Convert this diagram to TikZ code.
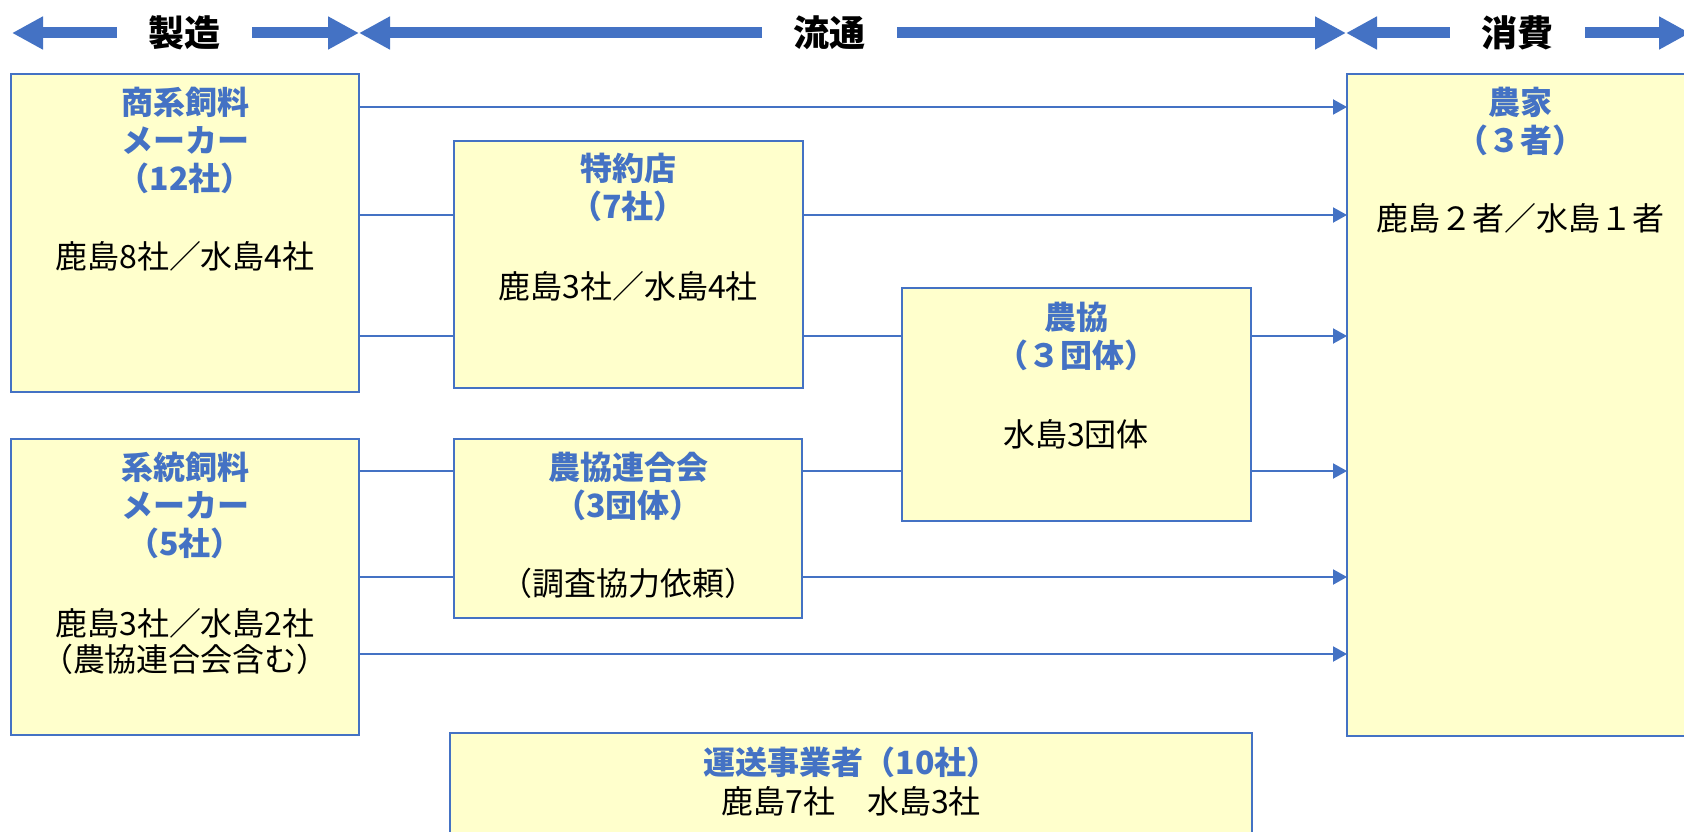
\documentclass[tikz,border=0pt]{standalone}
\usepackage{fontspec}
\setmainfont{Noto Sans CJK JP}
\usetikzlibrary{arrows.meta}
\definecolor{myblue}{HTML}{4472C4}
\definecolor{boxfill}{HTML}{FFFFCC}
\begin{document}
\begin{tikzpicture}[x=1pt,y=-1pt,
  box/.style={draw=myblue, line width=2pt, fill=boxfill, inner sep=0pt, outer sep=0pt, anchor=north west},
  ttl/.style={text=myblue, font=\fontsize{32}{38}\selectfont\bfseries, align=center, inner sep=0pt},
  body/.style={font=\fontsize{32}{36}\selectfont, align=center, inner sep=0pt},
  conn/.style={draw=myblue, line width=2pt},
  arr/.style={conn, -{Triangle[length=14pt,width=15pt]}},
  hdr/.style={draw=myblue, line width=11pt, {Triangle[length=31pt,width=31pt]}-{Triangle[length=31pt,width=31pt]}},
  hlbl/.style={fill=white, font=\fontsize{36}{40}\selectfont\bfseries, inner xsep=31.5pt, inner ysep=10pt}
]
\clip (0,0) rectangle (1684,832);
\fill[white] (0,0) rectangle (1684,832);

% header arrows
\coordinate (h0) at (12,33);
\coordinate (h1) at (359,33);
\coordinate (h2) at (1346,33);
\coordinate (h3) at (1690,33);
\draw[hdr] (h0) -- (h1);
\draw[hdr] (h1) -- (h2);
\draw[hdr] (h2) -- (h3);
\node[hlbl] (seizo) at (184.5,33) {製造};
\node[hlbl] (ryutsu) at (829.5,33) {流通};
\node[hlbl] (shohi) at (1517.5,33) {消費};

% boxes
\node[box, minimum width=348pt, minimum height=318pt] (shoukei) at (11,74) {};
\node[box, minimum width=349pt, minimum height=247pt] (tokuyaku) at (454,141) {};
\node[box, minimum width=349pt, minimum height=233pt] (noukyo) at (902,288) {};
\node[box, minimum width=360pt, minimum height=662pt] (nouka) at (1347,74) {};
\node[box, minimum width=348pt, minimum height=296pt] (keitou) at (11,439) {};
\node[box, minimum width=348pt, minimum height=179pt] (rengo) at (454,439) {};
\node[box, minimum width=802pt, minimum height=140pt] (unsou) at (450,733) {};

% texts
\node[ttl] (t1) at (185,140) {商系飼料\\メーカー\\（12社）};
\node[body] (b1) at (185,256) {鹿島8社／水島4社};
\node[ttl] (t2) at (628,187.5) {特約店\\（7社）};
\node[body] (b2) at (628,286) {鹿島3社／水島4社};
\node[ttl] (t3) at (1076,336.5) {農協\\（３団体）};
\node[body] (b3) at (1076,434) {水島3団体};
\node[ttl] (t4) at (1520,121) {農家\\（３者）};
\node[body] (b4) at (1520,218) {鹿島２者／水島１者};
\node[ttl] (t5) at (185,505) {系統飼料\\メーカー\\（5社）};
\node[body] (b5) at (185,641) {鹿島3社／水島2社\\（農協連合会含む）};
\node[ttl] (t6) at (628,486) {農協連合会\\（3団体）};
\node[body] (b6) at (628,583) {（調査協力依頼）};
\node[ttl] (t7) at (851,762) {運送事業者（10社）};
\node[body] (b7) at (851,801) {鹿島7社　水島3社};

% connectors
\coordinate (r1) at (0,107);
\coordinate (r2) at (0,215);
\coordinate (r3) at (0,336);
\coordinate (r4) at (0,471);
\coordinate (r5) at (0,577);
\coordinate (r6) at (0,654);
\draw[arr] (shoukei.east |- r1) -- (nouka.west |- r1);
\draw[conn] (shoukei.east |- r2) -- (tokuyaku.west |- r2);
\draw[arr] (tokuyaku.east |- r2) -- (nouka.west |- r2);
\draw[conn] (shoukei.east |- r3) -- (tokuyaku.west |- r3);
\draw[conn] (tokuyaku.east |- r3) -- (noukyo.west |- r3);
\draw[arr] (noukyo.east |- r3) -- (nouka.west |- r3);
\draw[conn] (keitou.east |- r4) -- (rengo.west |- r4);
\draw[conn] (rengo.east |- r4) -- (noukyo.west |- r4);
\draw[arr] (noukyo.east |- r4) -- (nouka.west |- r4);
\draw[conn] (keitou.east |- r5) -- (rengo.west |- r5);
\draw[arr] (rengo.east |- r5) -- (nouka.west |- r5);
\draw[arr] (keitou.east |- r6) -- (nouka.west |- r6);
\end{tikzpicture}
\end{document}
